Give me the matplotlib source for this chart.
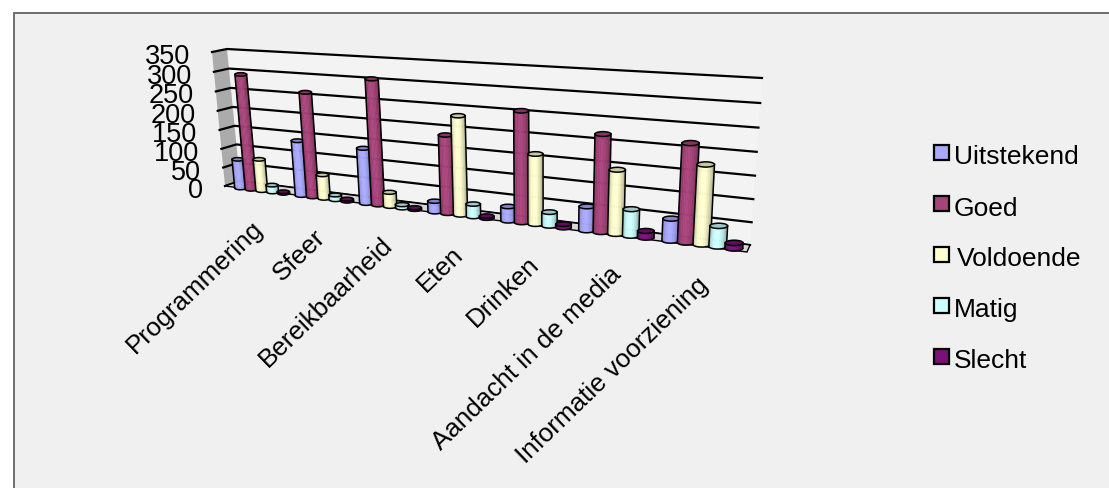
import numpy as np
import matplotlib
matplotlib.use("Agg")
import matplotlib.pyplot as plt
from matplotlib.collections import PolyCollection
from matplotlib.patches import Ellipse, Polygon, Rectangle

plt.rcParams['font.family'] = ['Liberation Sans', 'DejaVu Sans']

categories = ['Programmering', 'Sfeer', 'Bereikbaarheid', 'Eten', 'Drinken',
              'Aandacht in de media', 'Informatie voorziening']
uitstekend = [76, 140, 137, 26, 34, 55, 49]
goed = [295, 262, 305, 187, 256, 219, 215]
voldoende = [82, 60, 35, 234, 162, 144, 173]
matig = [18, 12, 8, 30, 32, 60, 45]
slecht = [4, 5, 4, 5, 8, 15, 12]
series_names = ['Uitstekend', 'Goed', 'Voldoende', 'Matig', 'Slecht']
series = [uitstekend, goed, voldoende, matig, slecht]
colors = ['#a9a9ff', '#a8437a', '#ffffcf', '#ccffff', '#7a1078']
y_ticks = [0, 50, 100, 150, 200, 250, 300, 350]
y_max = 350

W, H = 1109, 489
fig = plt.figure(figsize=(W / 100, H / 100), dpi=100, facecolor='white')
ax = fig.add_axes([0, 0, 1, 1])
ax.set_xlim(0, W)
ax.set_ylim(H, 0)
ax.axis('off')


def homography(quad):
    # maps the unit square to a pixel quad: (0,0) (1,0) (1,1) (0,1)
    (x0, y0), (x1, y1), (x2, y2), (x3, y3) = quad
    dx1, dx2, sx = x1 - x2, x3 - x2, x0 - x1 + x2 - x3
    dy1, dy2, sy = y1 - y2, y3 - y2, y0 - y1 + y2 - y3
    d = dx1 * dy2 - dx2 * dy1
    g = (sx * dy2 - dx2 * sy) / d
    h = (dx1 * sy - sx * dy1) / d
    return np.array([[x1 - x0 + g * x1, x3 - x0 + h * x3, x0],
                     [y1 - y0 + g * y1, y3 - y0 + h * y3, y0],
                     [g, h, 1.0]])


front = homography([(225, 187), (747, 253), (759, 85), (212, 53)])
back = homography([(240, 182), (750, 246), (762, 79), (227, 50)])
mid = homography([(232, 188), (747, 251), (758, 82), (219, 52)])


def project(m, u, v):
    p = m @ np.array([u, v, 1.0])
    return p[0] / p[2], p[1] / p[2]


def shade(color, f):
    c = np.array(matplotlib.colors.to_rgb(color))
    return tuple(np.clip(c * f, 0, 1))


# panel
ax.add_patch(Rectangle((13.5, 14), W, H, fc='#f0f0f0', ec='#6e6e6e', lw=1.4))

# back wall and side wall
ax.add_patch(Polygon([project(back, 0, 0), project(back, 1, 0), project(back, 1, 1),
                      project(back, 0, 1)], fc='#f3f3f3', ec='none'))
ax.add_patch(Polygon([project(front, 0, 0), project(back, 0, 0), project(back, 0, 1),
                      project(front, 0, 1)], fc='#ababab', ec='none'))

# gridlines run round the side wall and along the back wall
for t in y_ticks:
    v = t / y_max
    a, b, c = project(front, 0, v), project(back, 0, v), project(back, 1, v)
    ax.plot([a[0], b[0], c[0]], [a[1], b[1], c[1]], color='black', lw=1.6,
            solid_joinstyle='round', zorder=2)
    ax.text(a[0] - 22, a[1] + 4, str(t), ha='right', va='center', fontsize=19.5, color='black')

# floor
ax.add_patch(Polygon([project(front, 0, 0), project(front, 1, 0), project(back, 1, 0),
                      project(back, 0, 0)], fc='#d8d8d8', ec='black', lw=1.0, zorder=2))

shade_steps = np.array([0.80, 0.90, 0.97, 1.0, 1.03, 1.0, 0.96, 0.90, 0.82, 0.72])
n_cat, n_ser = len(categories), len(series)
z = 3
for i in range(n_cat):
    for j in range(n_ser):
        val = series[j][i]
        u = (i + 0.5 + (j - 2) * 0.178) / n_cat
        half = 0.098 / n_cat
        bx, by = project(mid, u, 0)
        tx, ty = project(mid, u, val / y_max)
        lx = project(mid, u - half, 0)[0]
        rx = project(mid, u + half, 0)[0]
        r = (rx - lx) / 2
        eh = r * 0.6

        # body as vertical strips, darker towards the edges
        edges = np.linspace(-1, 1, len(shade_steps) + 1)
        polys, fcs = [], []
        for k, f in enumerate(shade_steps):
            e0, e1 = edges[k], edges[k + 1]
            a0 = np.sqrt(max(0, 1 - e0 ** 2)) * eh / 2
            a1 = np.sqrt(max(0, 1 - e1 ** 2)) * eh / 2
            polys.append([(tx + e0 * r, ty), (tx + e1 * r, ty),
                          (bx + e1 * r, by + a1), (bx + e0 * r, by + a0)])
            fcs.append(shade(colors[j], f))
        ax.add_collection(PolyCollection(polys, facecolors=fcs, edgecolors=fcs, lw=0.4, zorder=z))

        # outline: the two sides, the front of the base, then the cap
        th = np.linspace(0, np.pi, 30)
        ax.plot(bx + r * np.cos(th), by + eh / 2 * np.sin(th), color='black', lw=1.1, zorder=z + 0.001)
        ax.plot([tx - r, bx - r], [ty, by], color='black', lw=1.1, zorder=z + 0.001)
        ax.plot([tx + r, bx + r], [ty, by], color='black', lw=1.1, zorder=z + 0.001)
        ax.add_patch(Ellipse((tx, ty), 2 * r, eh, fc=shade(colors[j], 0.78), ec='black', lw=1.1,
                             zorder=z + 0.002))
        z += 0.01

    # category label hangs off the front edge of the floor
    ex, ey = project(front, (i + 0.5) / n_cat, 0)
    ax.text(ex - 4, ey + 26, categories[i], rotation=44, rotation_mode='anchor', ha='right',
            va='top', fontsize=18.7, color='black', zorder=8)

# legend
legend_y = [153.5, 204.5, 255.5, 306.5, 357.5]
text_x = [954, 954, 957, 954, 954]
for name, col, ly, lx in zip(series_names, colors, legend_y, text_x):
    ax.add_patch(Rectangle((933.5, ly - 7.5), 15, 15, fc=col, ec='black', lw=1.6, zorder=9))
    ax.text(lx, ly + 4, name, ha='left', va='center', fontsize=19, color='black', zorder=9)

fig.savefig('out.png', dpi=100, facecolor='white')
